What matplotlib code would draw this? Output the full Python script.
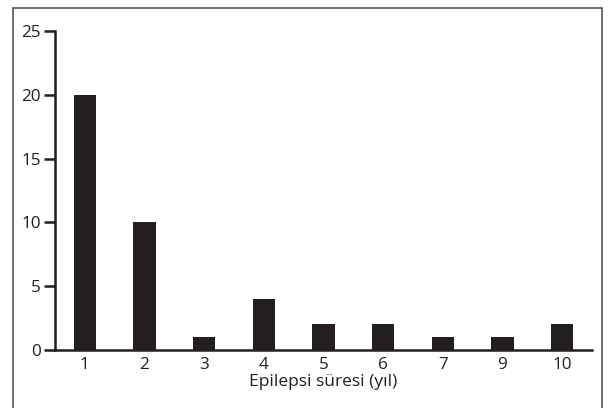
import matplotlib
matplotlib.use("Agg")
import matplotlib.pyplot as plt
from matplotlib.patches import Rectangle

categories = ["1", "2", "3", "4", "5", "6", "7", "9", "10"]
values = [20, 10, 1, 4, 2, 2, 1, 1, 2]
yticks = [0, 5, 10, 15, 20, 25]
xlabel = "Epilepsi süresi (yıl)"

W, H = 616, 408
fig = plt.figure(figsize=(W / 100, H / 100), dpi=100)
plt.rcParams['font.family'] = ['Open Sans', 'DejaVu Sans']

# outer frame
fig.patches.append(Rectangle((13 / W, -0.02), (602 - 13) / W, (H - 8) / H + 0.02,
                             transform=fig.transFigure, fill=False,
                             edgecolor="#555555", linewidth=1.2))

left, right, top, bottom = 55, 592, 31, 350
ax = fig.add_axes([left / W, 1 - bottom / H, (right - left) / W, (bottom - top) / H])
x = list(range(len(categories)))
ax.bar(x, values, width=0.37, color="#231f20")
ax.set_xlim(-0.5, len(categories) - 0.5)
ax.set_ylim(0, 25)
ax.set_yticks(yticks)
ax.set_xticks(x)
ax.set_xticklabels(categories)
for s in ["top", "right"]:
    ax.spines[s].set_visible(False)
for s in ["left", "bottom"]:
    ax.spines[s].set_linewidth(1.8)
    ax.spines[s].set_color("#231f20")
ax.tick_params(axis="y", length=8, width=1.8, color="#231f20", labelsize=12.3, pad=2, labelcolor="#231f20")
ax.tick_params(axis="x", length=0, labelsize=12.3, pad=5, labelcolor="#231f20")
ax.set_xlabel(xlabel, fontsize=12.5, color="#231f20", labelpad=1)

fig.savefig("out.png", dpi=100)
